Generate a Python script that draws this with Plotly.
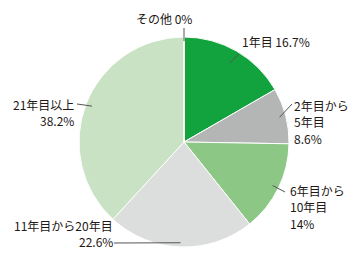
import math
import plotly.graph_objects as go

labels = ["1年目", "2年目から5年目", "6年目から10年目", "11年目から20年目", "21年目以上", "その他"]
values = [16.7, 8.6, 14.0, 22.6, 38.2, 0.0]
label_lines = [["1年目 16.7%"], ["2年目から", "5年目", "8.6%"], ["6年目から", "10年目", "14%"],
               ["11年目から20年目", "22.6%"], ["21年目以上", "38.2%"], ["その他 0%"]]
colors = ["#12a33f", "#b4b5b5", "#8cc785", "#dcdddd", "#c9e2c3", "#ffffff"]

W, H = 360, 260
CX, CY, R = 184, 142, 105
LINE_H = 16.5


def px(x):
    return x / W


def py(y):
    return 1 - y / H


fig = go.Figure(go.Pie(
    labels=labels, values=values, sort=False, direction="clockwise", rotation=0,
    marker=dict(colors=colors, line=dict(color="white", width=1)),
    textinfo="none", hoverinfo="label+percent", showlegend=False,
    domain=dict(x=[px(CX - R), px(CX + R)], y=[py(CY + R), py(CY - R)]),
))

# label placement (pixels): x, first-line y, xanchor, inner-radius fraction, outer leader point
label_pos = [
    (242, 42, "left", 0.87, (239, 54)),
    (294, 105, "left", 0.94, (292, 104)),
    (290, 190, "left", 0.94, (285, 192)),
    (113, 225, "right", 0.96, (114, 243)),
    (74, 104, "right", 0.94, (77, 104)),
    (164, 19, "center", 0.96, (184, 28)),
]

total = sum(values)
cum = 0.0
shapes = []
annotations = []
for v, lines, (lx, ly, xa, rf, (ox, oy)) in zip(values, label_lines, label_pos):
    mid = (cum + v / 2) / total * 2 * math.pi
    cum += v
    ix = CX + R * rf * math.sin(mid)
    iy = CY - R * rf * math.cos(mid)
    shapes.append(dict(type="line", xref="paper", yref="paper",
                       x0=px(ix), y0=py(iy), x1=px(ox), y1=py(oy),
                       line=dict(color="#555555", width=1)))
    for i, t in enumerate(lines):
        annotations.append(dict(text=t, x=px(lx), y=py(ly + i * LINE_H), xref="paper", yref="paper",
                                xanchor=xa, yanchor="middle", showarrow=False,
                                borderpad=0, borderwidth=0,
                                font=dict(size=12, color="#231815", family="Noto Sans CJK JP")))

fig.update_layout(width=W, height=H, margin=dict(l=0, r=0, t=0, b=0),
                  paper_bgcolor="white", plot_bgcolor="white",
                  shapes=shapes, annotations=annotations)
fig.write_html("out.html")
